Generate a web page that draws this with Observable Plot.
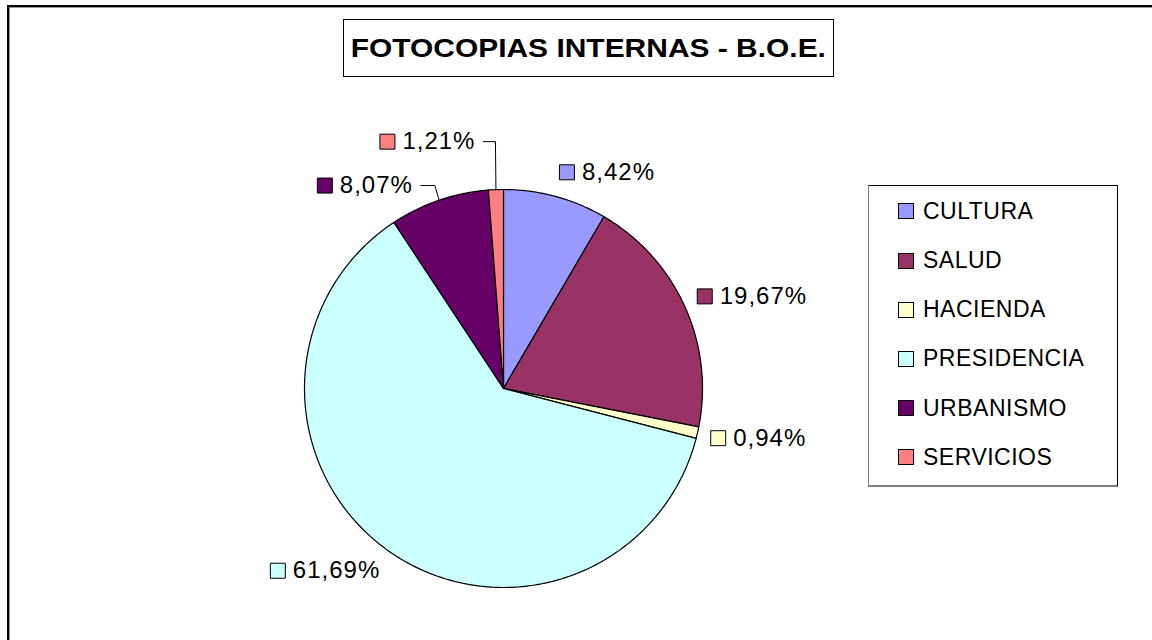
<!DOCTYPE html>
<html>
<head>
<meta charset="utf-8">
<script src="https://cdn.jsdelivr.net/npm/d3@7"></script>
<script src="https://cdn.jsdelivr.net/npm/@observablehq/plot@0.6"></script>
<style>
html,body{margin:0;padding:0;background:#fff;}
#wrap{position:relative;width:1152px;height:640px;overflow:hidden;font-family:"Liberation Sans",Arial,sans-serif;background:#fff;}
#chart{position:absolute;left:0;top:0;}
#frame{position:absolute;left:7px;top:5px;width:1200px;height:700px;border-left:2px solid #000;border-top:2px solid #000;box-shadow:inset 1px 1px 0 #999;pointer-events:none;}
#title{position:absolute;left:343px;top:19px;width:489px;height:56px;border:1px solid #000;background:#fff;display:flex;align-items:center;justify-content:center;}
#title span{font-weight:bold;font-size:26.5px;display:inline-block;transform:scaleX(1.13);white-space:nowrap;color:#000;}
#legend{position:absolute;left:868px;top:185px;width:248px;height:299px;border-top:1px solid #000;border-right:1px solid #000;border-left:1px solid #808080;border-bottom:2px solid #808080;background:#fff;}
.item{position:absolute;left:29px;height:26px;display:flex;align-items:center;font-size:23px;letter-spacing:0.5px;color:#000;white-space:nowrap;}
.sw{width:14px;height:14px;border:1px solid #000;margin-right:9px;flex:none;}
</style>
</head>
<body>
<div id="wrap">
  <div id="chart"></div>
  <div id="frame"></div>
  <div id="title"><span>FOTOCOPIAS INTERNAS - B.O.E.</span></div>
  <div id="legend"></div>
</div>
<script>
// ---- data ----
const categories = ["CULTURA", "SALUD", "HACIENDA", "PRESIDENCIA", "URBANISMO", "SERVICIOS"];
const shares = [8.42, 19.67, 0.94, 61.69, 8.07, 1.21];
const colors = ["#9999FF", "#993366", "#FFFFCC", "#CCFFFF", "#660066", "#FF8080"];

// ---- layout (pixels) ----
const W = 1152, H = 640;
const CX = 503, CY = 388, R = 199;
const FS = 24, LS = 1, GAP = 13, TEXT_OFF = 23;
const labelNudge = {URBANISMO: [-22, 9], SERVICIOS: [-20, -23]};

const fmt = v => d3.format(".2f")(v).replace(".", ",") + "%";
const total = d3.sum(shares);
let cum = 0;
const slices = categories.map((c, i) => {
  const a0 = cum / total * 2 * Math.PI;
  cum += shares[i];
  const a1 = cum / total * 2 * Math.PI;
  return {category: c, a0, a1, mid: (a0 + a1) / 2, label: fmt(shares[i])};
});

// slice polygons (y up, relative to pie centre)
const piePts = [];
for (const s of slices) {
  piePts.push({category: s.category, x: 0, y: 0});
  const n = Math.max(2, Math.ceil((s.a1 - s.a0) / (Math.PI / 360)));
  for (let k = 0; k <= n; k++) {
    const t = s.a0 + (s.a1 - s.a0) * k / n;
    piePts.push({category: s.category, x: R * Math.sin(t), y: R * Math.cos(t)});
  }
  piePts.push({category: s.category, x: 0, y: 0});
}

// labels
const ctx = document.createElement("canvas").getContext("2d");
ctx.font = `${FS}px "Liberation Sans", Arial, sans-serif`;
const labelRows = [], leaderPts = [];
for (const s of slices) {
  const sin = Math.sin(s.mid), cos = Math.cos(s.mid);
  const px = (R + GAP) * sin, py = -(R + GAP) * cos; // screen offsets
  const tw = ctx.measureText(s.label).width + s.label.length * LS;
  const bw = TEXT_OFF + tw;
  let left = sin >= 0 ? px : px - bw;
  let cy = py - cos * FS * 0.5;
  const nd = labelNudge[s.category];
  if (nd) {
    left += nd[0]; cy += nd[1];
    const endX = sin >= 0 ? left - 8 : left + bw + 8;
    leaderPts.push({category: s.category, x: R * sin, y: R * cos});
    leaderPts.push({category: s.category, x: px, y: -cy});
    leaderPts.push({category: s.category, x: endX, y: -cy});
  }
  labelRows.push({category: s.category, label: s.label, sx: left + 8, tx: left + TEXT_OFF, y: -cy});
}

const plot = Plot.plot({
  width: W, height: H,
  margin: 0,
  x: {type: "linear", domain: [-CX, W - CX], range: [0, W], axis: null},
  y: {type: "linear", domain: [CY, CY - H], range: [0, H], axis: null},
  color: {type: "ordinal", domain: categories, range: colors},
  marks: [
    Plot.line(piePts, {x: "x", y: "y", z: "category", fill: "category", stroke: "black", strokeWidth: 1.2, strokeLinejoin: "round", curve: "linear"}),
    Plot.line(leaderPts, {x: "x", y: "y", z: "category", stroke: "black", strokeWidth: 1}),
    Plot.dot(labelRows, {x: "sx", y: "y", symbol: "square", r: 15 / Math.sqrt(Math.PI), fill: "category", stroke: "black", strokeWidth: 1}),
    Plot.text(labelRows, {x: "tx", y: "y", text: "label", textAnchor: "start", fontSize: FS, fontFamily: '"Liberation Sans", Arial, sans-serif', fill: "black"})
  ]
});
plot.style.letterSpacing = LS + "px";
plot.style.background = "transparent";
document.getElementById("chart").appendChild(plot);

// legend
const legend = document.getElementById("legend");
categories.forEach((c, i) => {
  const it = document.createElement("div");
  it.className = "item";
  it.style.top = (211.3 - 186 - 13 + i * 49.2) + "px";
  const sw = document.createElement("div");
  sw.className = "sw";
  sw.style.background = colors[i];
  it.appendChild(sw);
  it.appendChild(document.createTextNode(c));
  legend.appendChild(it);
});
</script>
</body>
</html>
